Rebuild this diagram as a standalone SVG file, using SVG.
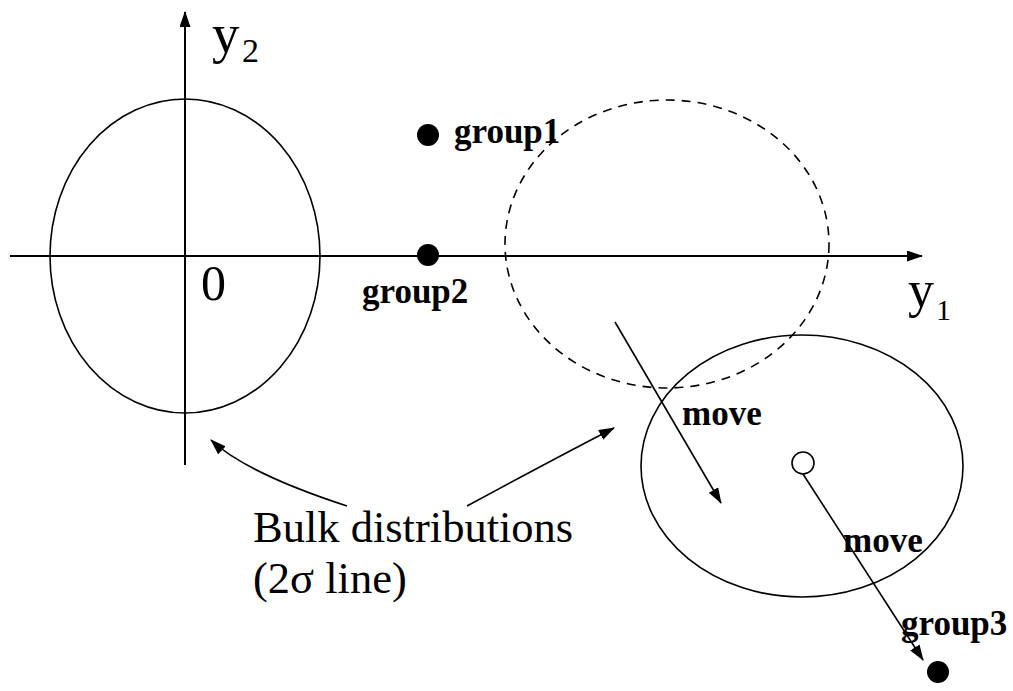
<svg xmlns="http://www.w3.org/2000/svg" width="1013" height="691" viewBox="0 0 1013 691">
<defs>
<marker id="ah" viewBox="0 0 16 11" refX="15" refY="5.5" markerWidth="16" markerHeight="11" markerUnits="userSpaceOnUse" orient="auto">
<path d="M0,0 L16,5.5 L0,11 Z" fill="#000"/>
</marker>
<style>
.ln{fill:none;stroke:#000;stroke-width:1.6}
.ax{fill:none;stroke:#000;stroke-width:2}
.lbl{font-family:"Liberation Serif",serif;font-weight:bold;font-size:35px;fill:#000}
.txt{font-family:"Liberation Serif",serif;font-size:44.5px;fill:#000}
.dot{fill:#000}
</style>
</defs>
<rect width="1013" height="691" fill="#fff"/>
<g id="axes">
<line class="ax" x1="10" y1="256" x2="922" y2="256" marker-end="url(#ah)"/>
<line class="ax" x1="185" y1="465" x2="185" y2="12" marker-end="url(#ah)"/>
<text class="txt" x="212" y="52" style="font-size:55px">y</text>
<text class="txt" x="242" y="62" style="font-size:34px">2</text>
<text class="txt" x="908" y="307" style="font-size:52px">y</text>
<text class="txt" x="936" y="320" style="font-size:30px">1</text>
<text class="txt" x="201" y="300" style="font-size:50px">0</text>
</g>
<g id="bulk-left"><ellipse class="ln" cx="185" cy="256" rx="135" ry="157"/></g>
<g id="bulk-dashed"><ellipse class="ln" cx="667" cy="244" rx="162" ry="144" stroke-dasharray="9,7"/></g>
<g id="bulk-right"><ellipse class="ln" cx="802" cy="466" rx="161" ry="131"/></g>
<g id="group1"><circle class="dot" cx="428" cy="135" r="11"/><text class="lbl" x="454" y="143">group1</text></g>
<g id="group2"><circle class="dot" cx="428" cy="255" r="11"/><text class="lbl" x="362" y="303">group2</text></g>
<g id="center"><circle cx="803" cy="463" r="11" fill="#fff" stroke="#000" stroke-width="1.6"/></g>
<g id="group3"><circle class="dot" cx="938" cy="672" r="11"/><text class="lbl" x="901" y="635">group3</text></g>
<g id="labels">
<text class="lbl" x="682" y="425">move</text>
<text class="lbl" x="843" y="552">move</text>
<text class="txt" x="253" y="542">Bulk distributions</text>
<text class="txt" x="253" y="593">(2σ line)</text>
</g>
<g id="connectors">
<line class="ln" x1="615" y1="322" x2="721" y2="503" marker-end="url(#ah)"/>
<line class="ln" x1="803" y1="474" x2="923" y2="660" marker-end="url(#ah)"/>
<path class="ln" d="M347,506 Q246,473 211,440" marker-end="url(#ah)"/>
<path class="ln" d="M467,506 Q554,459 614,428" marker-end="url(#ah)"/>
</g>
</svg>
